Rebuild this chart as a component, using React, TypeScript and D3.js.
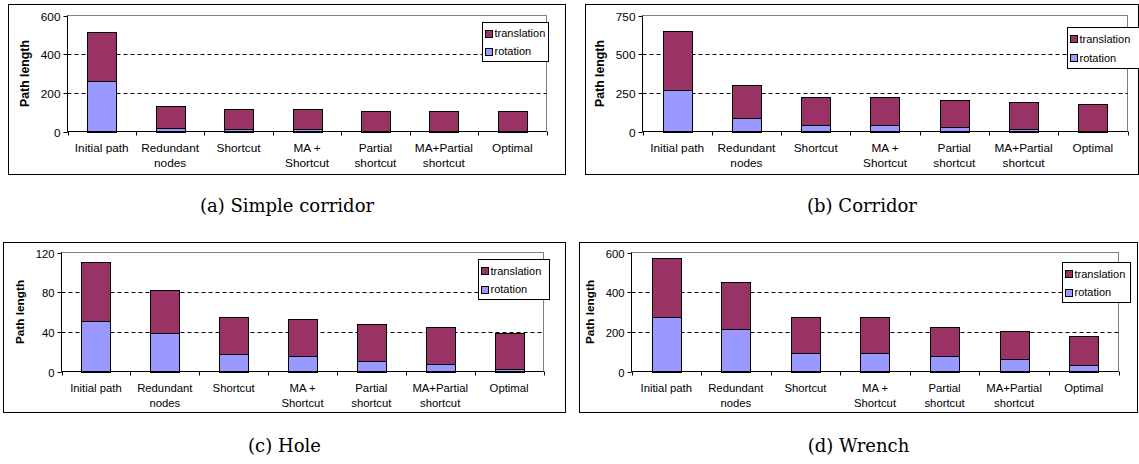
import React from "react";
import * as d3 from "d3";

// categories along the x axis (shared by all four panels)
const categories = ["Initial path", "Redundant nodes", "Shortcut", "MA + Shortcut", "Partial shortcut", "MA+Partial shortcut", "Optimal"];
const categoryLines = [["Initial path"], ["Redundant", "nodes"], ["Shortcut"], ["MA +", "Shortcut"], ["Partial", "shortcut"], ["MA+Partial", "shortcut"], ["Optimal"]];

const seriesKeys = ["rotation", "translation"];
const legendKeys = ["translation", "rotation"];
const seriesColors: Record<string, string> = { rotation: "#9999ff", translation: "#993366" };

// (a) Simple corridor
const rotationA = [259, 19, 14, 14, 2, 2, 1];
const translationA = [258, 112, 103, 103, 103, 103, 104];
const ticksA = [0, 200, 400, 600];

// (b) Corridor
const rotationB = [269, 86, 43, 43, 28, 17, 6];
const translationB = [382, 216, 183, 183, 177, 175, 173];
const ticksB = [0, 250, 500, 750];

// (c) Hole
const rotationC = [50.8, 39.3, 17.8, 15.5, 10.8, 7.4, 2.4];
const translationC = [59.2, 42.7, 37.2, 37.3, 36.9, 37.3, 36.6];
const ticksC = [0, 40, 80, 120];

// (d) Wrench
const rotationD = [274, 213, 92, 92, 76, 62, 32];
const translationD = [296, 239, 184, 184, 148, 143, 146];
const ticksD = [0, 200, 400, 600];

type Box = { l: number, r: number, t: number, b: number };
type PanelCfg = {
    caption: string,
    rotation: number[],
    translation: number[],
    ticks: number[],
    box: Box,
    plot: Box,
    legend: Box,
    titleX: number,
    captionY: number,
    fs: number,
};

const panels: PanelCfg[] = [
    {
        caption: "(a)  Simple corridor", rotation: rotationA, translation: translationA, ticks: ticksA,
        box: {l: 8.5, r: 565.5, t: 4.5, b: 174.5},
        plot: {l: 67.5, r: 546.5, t: 15.5, b: 131.5},
        legend: {l: 482.5, r: 548.5, t: 22.5, b: 61.5},
        titleX: 25, captionY: 212, fs: 11.8,
    },
    {
        caption: "(b)  Corridor", rotation: rotationB, translation: translationB, ticks: ticksB,
        box: {l: 585.5, r: 1138.5, t: 4.5, b: 174.5},
        plot: {l: 642.5, r: 1127.5, t: 15.5, b: 131.5},
        legend: {l: 1067.5, r: 1140.5, t: 27.5, b: 68.5},
        titleX: 600, captionY: 212, fs: 11.8,
    },
    {
        caption: "(c)  Hole", rotation: rotationC, translation: translationC, ticks: ticksC,
        box: {l: 3.5, r: 565.5, t: 242.5, b: 412.5},
        plot: {l: 61.5, r: 543.5, t: 252.5, b: 371.5},
        legend: {l: 478.5, r: 549.5, t: 259.5, b: 299.5},
        titleX: 20, captionY: 452, fs: 11.3,
    },
    {
        caption: "(d)  Wrench", rotation: rotationD, translation: translationD, ticks: ticksD,
        box: {l: 579.5, r: 1137.5, t: 242.5, b: 412.5},
        plot: {l: 631.5, r: 1118.5, t: 252.5, b: 371.5},
        legend: {l: 1062.5, r: 1130.5, t: 262.5, b: 302.5},
        titleX: 590, captionY: 452, fs: 11.3,
    },
];

const sans = "'Liberation Sans', Arial, sans-serif";

function Panel({cfg}: { cfg: PanelCfg }) {
    const {box, plot, legend, ticks, fs} = cfg;

    const x = d3.scaleBand<string>()
        .domain(categories)
        .range([plot.l, plot.r])
        .paddingInner(0.58)
        .paddingOuter(0.29);
    const y = d3.scaleLinear()
        .domain([0, d3.max(ticks) ?? 0])
        .range([plot.b, plot.t]);

    const rows = categories.map((c, i) => ({cat: c, rotation: cfg.rotation[i], translation: cfg.translation[i]}));
    const layers = d3.stack<any>().keys(seriesKeys)(rows);
    const step = (plot.r - plot.l) / categories.length;

    return <g>
        <rect x={box.l} y={box.t} width={box.r - box.l} height={box.b - box.t} fill="white" stroke="black"/>
        <rect x={plot.l} y={plot.t} width={plot.r - plot.l} height={plot.b - plot.t} fill="none" stroke="#808080"/>
        {ticks.slice(1, -1).map(t =>
            <line key={t} x1={plot.l} x2={plot.r} y1={Math.round(y(t)) + 0.5} y2={Math.round(y(t)) + 0.5}
                  stroke="black" strokeDasharray="4,3"/>)}
        {layers.map(layer =>
            <g key={layer.key} fill={seriesColors[layer.key]} stroke="black" strokeWidth={1}>
                {layer.map((d: any) =>
                    <rect key={d.data.cat}
                          x={Math.round(x(d.data.cat) ?? 0) + 0.5}
                          y={Math.round(y(d[1])) + 0.5}
                          width={Math.round(x.bandwidth())}
                          height={Math.max(0, Math.round(y(d[0])) - Math.round(y(d[1])))}/>)}
            </g>)}
        {/* y axis */}
        <line x1={plot.l} x2={plot.l} y1={plot.t} y2={plot.b} stroke="black"/>
        {ticks.map(t => {
            const ty = Math.round(y(t)) + 0.5;
            return <g key={t}>
                <line x1={plot.l - 4} x2={plot.l} y1={ty} y2={ty} stroke="black"/>
                <text x={plot.l - 7} y={ty} textAnchor="end" dominantBaseline="central"
                      fontFamily={sans} fontSize={fs}>{t}</text>
            </g>;
        })}
        <text transform={`translate(${cfg.titleX},${(plot.t + plot.b) / 2}) rotate(-90)`} textAnchor="middle"
              dominantBaseline="central" fontFamily={sans} fontSize={fs + 0.5} fontWeight="bold">Path length</text>
        {/* x axis */}
        <line x1={plot.l} x2={plot.r} y1={plot.b} y2={plot.b} stroke="black"/>
        {d3.range(categories.length + 1).map(i =>
            <line key={i} x1={Math.round(plot.l + i * step) + 0.5} x2={Math.round(plot.l + i * step) + 0.5}
                  y1={plot.b} y2={plot.b + 4} stroke="black"/>)}
        {categories.map((c, i) =>
            <text key={c} x={(x(c) ?? 0) + x.bandwidth() / 2} textAnchor="middle" fontFamily={sans} fontSize={fs}>
                {categoryLines[i].map((ln, k) =>
                    <tspan key={k} x={(x(c) ?? 0) + x.bandwidth() / 2} y={plot.b + 20 + k * 15}>{ln}</tspan>)}
            </text>)}
        {/* legend */}
        <rect x={legend.l} y={legend.t} width={legend.r - legend.l} height={legend.b - legend.t} fill="white" stroke="black"/>
        {legendKeys.map((k, i) => {
            const cy = legend.t + (legend.b - legend.t) * (i === 0 ? 0.28 : 0.74);
            return <g key={k}>
                <rect x={legend.l + 3} y={Math.round(cy - 3.5) + 0.5} width={7} height={7} fill={seriesColors[k]} stroke="black"/>
                <text x={legend.l + 12} y={cy} dominantBaseline="central" fontFamily={sans} fontSize={11}>{k}</text>
            </g>;
        })}
        <text x={(box.l + box.r) / 2} y={cfg.captionY} textAnchor="middle"
              fontFamily="'DejaVu Serif', serif" fontSize={18}>{cfg.caption}</text>
    </g>;
}

export default function App() {
    return <svg width={1139} height={464} style={{position: "absolute", left: 0, top: 0, background: "white"}}>
        <rect width={1139} height={464} fill="white"/>
        {panels.map(p => <Panel key={p.caption} cfg={p}/>)}
    </svg>;
}
